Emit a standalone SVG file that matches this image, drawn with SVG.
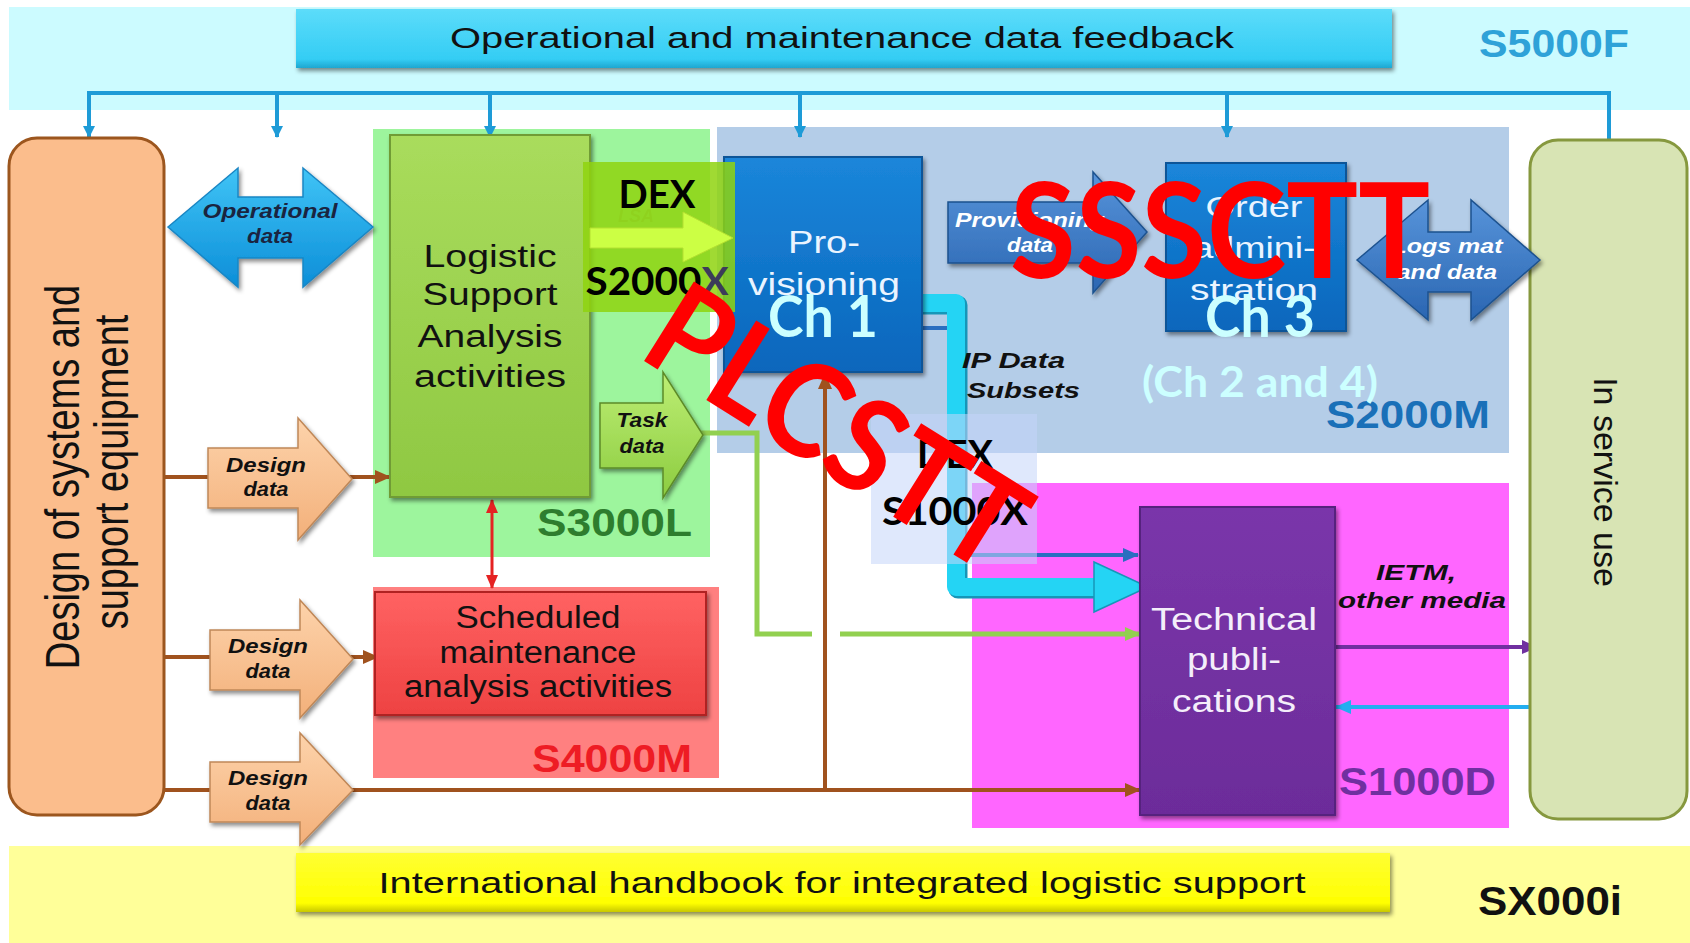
<svg xmlns="http://www.w3.org/2000/svg" width="1690" height="943" viewBox="0 0 1690 943">
<defs>
<style>
.sans{font-family:"Liberation Sans",Arial,sans-serif}
.lab{font-family:"Liberation Sans",Arial,sans-serif;font-weight:bold;font-style:italic}
.cal{font-family:Lato,"Open Sans",sans-serif;font-weight:bold}
.std{font-family:"Liberation Sans",Arial,sans-serif;font-weight:bold}
.fb{fill:none;stroke:#1e9bd7;stroke-width:4}
.br{fill:none;stroke:#a0521e;stroke-width:4}
</style>
<filter id="sh" x="-10%" y="-10%" width="130%" height="130%"><feDropShadow dx="2" dy="3" stdDeviation="2" flood-color="#000" flood-opacity="0.45"/></filter>
<linearGradient id="gBlue" x1="0" y1="0" x2="0" y2="1"><stop offset="0" stop-color="#1b86da"/><stop offset="1" stop-color="#0766bc"/></linearGradient>
<linearGradient id="gGreen" x1="0" y1="0" x2="0" y2="1"><stop offset="0" stop-color="#a9dc5c"/><stop offset="1" stop-color="#8fc842"/></linearGradient>
<linearGradient id="gRed" x1="0" y1="0" x2="0" y2="1"><stop offset="0" stop-color="#ff6262"/><stop offset="1" stop-color="#ee4242"/></linearGradient>
<linearGradient id="gPurple" x1="0" y1="0" x2="0" y2="1"><stop offset="0" stop-color="#7a36aa"/><stop offset="1" stop-color="#6c2c9a"/></linearGradient>
<linearGradient id="gPeach" x1="0" y1="0" x2="0" y2="1"><stop offset="0" stop-color="#fdd3ab"/><stop offset="1" stop-color="#f3b07a"/></linearGradient>
<linearGradient id="gOp" x1="0" y1="0" x2="0" y2="1"><stop offset="0" stop-color="#40c4f6"/><stop offset="1" stop-color="#0c8ed8"/></linearGradient>
<linearGradient id="gTask" x1="0" y1="0" x2="0" y2="1"><stop offset="0" stop-color="#bdee74"/><stop offset="1" stop-color="#8ccc40"/></linearGradient>
<linearGradient id="gBA" x1="0" y1="0" x2="0" y2="1"><stop offset="0" stop-color="#5894da"/><stop offset="1" stop-color="#2a66b2"/></linearGradient>
<linearGradient id="gBar" x1="0" y1="0" x2="0" y2="1"><stop offset="0" stop-color="#5cdcfa"/><stop offset="0.85" stop-color="#34cdf4"/><stop offset="1" stop-color="#1ea6d0"/></linearGradient>
<linearGradient id="gYBar" x1="0" y1="0" x2="0" y2="1"><stop offset="0" stop-color="#ffff33"/><stop offset="0.85" stop-color="#ffff00"/><stop offset="1" stop-color="#c8c800"/></linearGradient>
<marker id="mFb" markerWidth="12" markerHeight="12" refX="11" refY="6" orient="auto" markerUnits="userSpaceOnUse"><path d="M0,0 L12,6 L0,12 Z" fill="#1e9bd7"/></marker>
<marker id="mBr" markerWidth="16" markerHeight="14" refX="15" refY="7" orient="auto" markerUnits="userSpaceOnUse"><path d="M0,0 L16,7 L0,14 Z" fill="#a0521e"/></marker>
<marker id="mGr" markerWidth="16" markerHeight="14" refX="15" refY="7" orient="auto" markerUnits="userSpaceOnUse"><path d="M0,0 L16,7 L0,14 Z" fill="#92d050"/></marker>
<marker id="mRd" markerWidth="14" markerHeight="12" refX="13" refY="6" orient="auto-start-reverse" markerUnits="userSpaceOnUse"><path d="M0,0 L14,6 L0,12 Z" fill="#e52222"/></marker>
<marker id="mPu" markerWidth="16" markerHeight="14" refX="15" refY="7" orient="auto" markerUnits="userSpaceOnUse"><path d="M0,0 L16,7 L0,14 Z" fill="#7030a0"/></marker>
<marker id="mCy" markerWidth="16" markerHeight="14" refX="15" refY="7" orient="auto" markerUnits="userSpaceOnUse"><path d="M0,0 L16,7 L0,14 Z" fill="#22aef0"/></marker>
<marker id="mDb" markerWidth="16" markerHeight="14" refX="15" refY="7" orient="auto" markerUnits="userSpaceOnUse"><path d="M0,0 L16,7 L0,14 Z" fill="#2a6ec0"/></marker>
</defs>
<rect width="1690" height="943" fill="#ffffff"/>

<!-- bands and regions -->
<g id="band-s5000f">
<rect x="9" y="7" width="1681" height="103" fill="#ccfbff"/>
<rect x="296" y="9" width="1096" height="59" fill="url(#gBar)" filter="url(#sh)"/>
<text class="sans" x="842" y="48" font-size="30" text-anchor="middle" textLength="784" lengthAdjust="spacingAndGlyphs" fill="#111">Operational and maintenance data feedback</text>
<text class="std" x="1479" y="57" font-size="38" textLength="150" lengthAdjust="spacingAndGlyphs" fill="#2fa2d8">S5000F</text>
</g>
<g id="band-sx000i">
<rect x="9" y="846" width="1681" height="97" fill="#ffff99"/>
<rect x="296" y="853" width="1094" height="59" fill="url(#gYBar)" filter="url(#sh)"/>
<text class="sans" x="842" y="893" font-size="30" text-anchor="middle" textLength="927" lengthAdjust="spacingAndGlyphs" fill="#111">International handbook for integrated logistic support</text>
<text class="std" x="1478" y="915" font-size="40" textLength="144" lengthAdjust="spacingAndGlyphs" fill="#111">SX000i</text>
</g>
<g id="region-s3000l">
<rect x="373" y="129" width="337" height="428" fill="#9df59d"/>
<text class="std" x="537" y="536" font-size="38" textLength="155" lengthAdjust="spacingAndGlyphs" fill="#2e7d2e">S3000L</text>
</g>
<g id="region-s4000m">
<rect x="373" y="587" width="346" height="191" fill="#ff8080"/>
<text class="std" x="532" y="772" font-size="38" textLength="160" lengthAdjust="spacingAndGlyphs" fill="#ee1c24">S4000M</text>
</g>
<g id="region-s2000m">
<rect x="717" y="127" width="792" height="326" fill="#b4cde8"/>
<text class="std" x="1326" y="428" font-size="38" textLength="164" lengthAdjust="spacingAndGlyphs" fill="#1a70b8">S2000M</text>
</g>
<g id="region-s1000d">
<rect x="972" y="483" width="537" height="345" fill="#ff66ff"/>
<text class="std" x="1339" y="795" font-size="38" textLength="157" lengthAdjust="spacingAndGlyphs" fill="#7030a0">S1000D</text>
</g>

<!-- connectors -->
<g id="connectors">
<polyline class="fb" points="89,93 1609,93 1609,141"/>
<line class="fb" x1="89" y1="91" x2="89" y2="137" marker-end="url(#mFb)"/>
<line class="fb" x1="277" y1="93" x2="277" y2="137" marker-end="url(#mFb)"/>
<line class="fb" x1="490" y1="93" x2="490" y2="137" marker-end="url(#mFb)"/>
<line class="fb" x1="800" y1="93" x2="800" y2="137" marker-end="url(#mFb)"/>
<line class="fb" x1="1227" y1="93" x2="1227" y2="137" marker-end="url(#mFb)"/>
<line class="br" x1="164" y1="477" x2="215" y2="477"/>
<line class="br" x1="345" y1="477" x2="390" y2="477" marker-end="url(#mBr)"/>
<line class="br" x1="164" y1="657" x2="215" y2="657"/>
<line class="br" x1="345" y1="657" x2="378" y2="657" marker-end="url(#mBr)"/>
<line class="br" x1="164" y1="790" x2="215" y2="790"/>
<line class="br" x1="345" y1="790" x2="1140" y2="790" marker-end="url(#mBr)"/>
<line class="br" x1="825" y1="790" x2="825" y2="374" marker-end="url(#mBr)"/>
<line x1="492" y1="500" x2="492" y2="588" stroke="#e52222" stroke-width="3" marker-start="url(#mRd)" marker-end="url(#mRd)"/>
<polyline points="700,433 757,433 757,634 812,634" fill="none" stroke="#92d050" stroke-width="5"/>
<line x1="840" y1="634" x2="1140" y2="634" stroke="#92d050" stroke-width="5" marker-end="url(#mGr)"/>
<polyline points="922,328 956,328 956,555 1138,555" fill="none" stroke="#2a6ec0" stroke-width="4" marker-end="url(#mDb)"/>
<polyline points="915,305 958,305 958,589 1100,589" fill="none" stroke="#1696b8" stroke-width="19" stroke-linejoin="round"/>
<polyline points="913,303 956,303 956,587 1098,587" fill="none" stroke="#24d4f4" stroke-width="18" stroke-linejoin="round"/>
<polygon points="1094,562 1148,587 1094,612" fill="#24d4f4" stroke="#1696b8" stroke-width="1.5"/>
<line x1="1335" y1="647" x2="1537" y2="647" stroke="#7030a0" stroke-width="4" marker-end="url(#mPu)"/>
<line x1="1537" y1="707" x2="1336" y2="707" stroke="#22aef0" stroke-width="4" marker-end="url(#mCy)"/>
</g>

<!-- nodes -->
<g id="design-systems">
<rect x="9" y="138" width="155" height="677" rx="28" fill="#fbbd8c" stroke="#9c561e" stroke-width="3"/>
<text class="sans" transform="translate(79,477) rotate(-90) scale(1,1.25)" font-size="38" text-anchor="middle" fill="#111">Design of systems and</text>
<text class="sans" transform="translate(128,472) rotate(-90) scale(1,1.25)" font-size="38" text-anchor="middle" fill="#111">support equipment</text>
</g>
<g id="in-service-use">
<rect x="1530" y="140" width="157" height="679" rx="28" fill="#d8e4b4" stroke="#86983e" stroke-width="3"/>
<text class="sans" transform="translate(1594,482) rotate(90)" font-size="34" text-anchor="middle" fill="#111">In service use</text>
</g>
<g id="operational-data">
<polygon points="168,227 238,168 238,197 303,197 303,168 373,227 303,287 303,258 238,258 238,287" fill="url(#gOp)" stroke="#1a86c4" stroke-width="1.5" filter="url(#sh)"/>
<text class="lab" x="270" y="218" font-size="21" text-anchor="middle" textLength="135" lengthAdjust="spacingAndGlyphs" fill="#1a2440">Operational</text>
<text class="lab" x="270" y="243" font-size="21" text-anchor="middle" textLength="46" lengthAdjust="spacingAndGlyphs" fill="#1a2440">data</text>
</g>
<g id="design-data-1">
<polygon points="208,448 298,448 298,418 352,479 298,540 298,508 208,508" fill="url(#gPeach)" stroke="#c08858" stroke-width="1.5" filter="url(#sh)"/>
<text class="lab" x="266" y="472" font-size="20" text-anchor="middle" textLength="80" lengthAdjust="spacingAndGlyphs" fill="#111">Design</text>
<text class="lab" x="266" y="496" font-size="20" text-anchor="middle" textLength="45" lengthAdjust="spacingAndGlyphs" fill="#111">data</text>
</g>
<g id="design-data-2">
<polygon points="210,630 300,630 300,600 353,659 300,718 300,690 210,690" fill="url(#gPeach)" stroke="#c08858" stroke-width="1.5" filter="url(#sh)"/>
<text class="lab" x="268" y="653" font-size="20" text-anchor="middle" textLength="80" lengthAdjust="spacingAndGlyphs" fill="#111">Design</text>
<text class="lab" x="268" y="678" font-size="20" text-anchor="middle" textLength="45" lengthAdjust="spacingAndGlyphs" fill="#111">data</text>
</g>
<g id="design-data-3">
<polygon points="210,762 300,762 300,733 353,790 300,845 300,822 210,822" fill="url(#gPeach)" stroke="#c08858" stroke-width="1.5" filter="url(#sh)"/>
<text class="lab" x="268" y="785" font-size="20" text-anchor="middle" textLength="80" lengthAdjust="spacingAndGlyphs" fill="#111">Design</text>
<text class="lab" x="268" y="810" font-size="20" text-anchor="middle" textLength="45" lengthAdjust="spacingAndGlyphs" fill="#111">data</text>
</g>
<g id="lsa-activities">
<rect x="390" y="135" width="200" height="362" fill="url(#gGreen)" stroke="#6f9c34" stroke-width="2" filter="url(#sh)"/>
<text class="sans" x="490" y="267" font-size="31" text-anchor="middle" textLength="133" lengthAdjust="spacingAndGlyphs" fill="#111">Logistic</text>
<text class="sans" x="490" y="305" font-size="31" text-anchor="middle" textLength="135" lengthAdjust="spacingAndGlyphs" fill="#111">Support</text>
<text class="sans" x="490" y="347" font-size="31" text-anchor="middle" textLength="145" lengthAdjust="spacingAndGlyphs" fill="#111">Analysis</text>
<text class="sans" x="490" y="387" font-size="31" text-anchor="middle" textLength="152" lengthAdjust="spacingAndGlyphs" fill="#111">activities</text>
</g>
<g id="task-data">
<polygon points="600,403 663,403 663,372 703,435 663,498 663,468 600,468" fill="url(#gTask)" stroke="#5c8a28" stroke-width="1.5" filter="url(#sh)"/>
<text class="lab" x="642" y="427" font-size="20" text-anchor="middle" textLength="51" lengthAdjust="spacingAndGlyphs" fill="#111">Task</text>
<text class="lab" x="642" y="453" font-size="20" text-anchor="middle" textLength="45" lengthAdjust="spacingAndGlyphs" fill="#111">data</text>
</g>
<g id="scheduled-maintenance">
<rect x="375" y="592" width="331" height="123" fill="url(#gRed)" stroke="#b02424" stroke-width="2" filter="url(#sh)"/>
<text class="sans" x="538" y="628" font-size="31" text-anchor="middle" textLength="165" lengthAdjust="spacingAndGlyphs" fill="#111">Scheduled</text>
<text class="sans" x="538" y="663" font-size="31" text-anchor="middle" textLength="197" lengthAdjust="spacingAndGlyphs" fill="#111">maintenance</text>
<text class="sans" x="538" y="697" font-size="31" text-anchor="middle" textLength="268" lengthAdjust="spacingAndGlyphs" fill="#111">analysis activities</text>
</g>
<g id="provisioning">
<rect x="724" y="157" width="198" height="215" fill="url(#gBlue)" stroke="#0a5498" stroke-width="2" filter="url(#sh)"/>
<text class="sans" x="824" y="253" font-size="31" text-anchor="middle" textLength="72" lengthAdjust="spacingAndGlyphs" fill="#eaf4ff">Pro-</text>
<text class="sans" x="824" y="295" font-size="31" text-anchor="middle" textLength="152" lengthAdjust="spacingAndGlyphs" fill="#eaf4ff">visioning</text>
</g>
<g id="provisioning-data">
<polygon points="948,202 1093,202 1093,172 1147,232 1093,293 1093,263 948,263" fill="url(#gBA)" stroke="#1d528f" stroke-width="1.5" filter="url(#sh)"/>
<text class="lab" x="1030" y="227" font-size="20" text-anchor="middle" textLength="150" lengthAdjust="spacingAndGlyphs" fill="#ffffff">Provisioning</text>
<text class="lab" x="1030" y="252" font-size="20" text-anchor="middle" textLength="46" lengthAdjust="spacingAndGlyphs" fill="#ffffff">data</text>
</g>
<g id="order-administration">
<rect x="1166" y="163" width="180" height="168" fill="url(#gBlue)" stroke="#0a5498" stroke-width="2" filter="url(#sh)"/>
<text class="sans" x="1254" y="217" font-size="29" text-anchor="middle" textLength="97" lengthAdjust="spacingAndGlyphs" fill="#eaf4ff">Order</text>
<text class="sans" x="1254" y="258" font-size="29" text-anchor="middle" textLength="123" lengthAdjust="spacingAndGlyphs" fill="#eaf4ff">admini-</text>
<text class="sans" x="1254" y="300" font-size="29" text-anchor="middle" textLength="128" lengthAdjust="spacingAndGlyphs" fill="#eaf4ff">stration</text>
</g>
<g id="logs-mat-data">
<polygon points="1357,260 1428,200 1428,232 1471,232 1471,200 1540,260 1471,320 1471,292 1428,292 1428,320" fill="url(#gBA)" stroke="#1d528f" stroke-width="1.5" filter="url(#sh)"/>
<text class="lab" x="1447" y="253" font-size="20" text-anchor="middle" textLength="111" lengthAdjust="spacingAndGlyphs" fill="#ffffff">Logs mat</text>
<text class="lab" x="1447" y="279" font-size="20" text-anchor="middle" textLength="100" lengthAdjust="spacingAndGlyphs" fill="#ffffff">and data</text>
</g>
<g id="ip-data-subsets">
<text class="lab" x="962" y="368" font-size="22" textLength="103" lengthAdjust="spacingAndGlyphs" fill="#111">IP Data</text>
<text class="lab" x="967" y="398" font-size="22" textLength="113" lengthAdjust="spacingAndGlyphs" fill="#111">Subsets</text>
</g>
<g id="technical-publications">
<rect x="1140" y="507" width="195" height="308" fill="url(#gPurple)" stroke="#56207e" stroke-width="2" filter="url(#sh)"/>
<text class="sans" x="1234" y="630" font-size="31" text-anchor="middle" textLength="166" lengthAdjust="spacingAndGlyphs" fill="#f4eefa">Technical</text>
<text class="sans" x="1234" y="670" font-size="31" text-anchor="middle" textLength="94" lengthAdjust="spacingAndGlyphs" fill="#f4eefa">publi-</text>
<text class="sans" x="1234" y="712" font-size="31" text-anchor="middle" textLength="124" lengthAdjust="spacingAndGlyphs" fill="#f4eefa">cations</text>
</g>
<g id="ietm-label">
<text class="lab" x="1376" y="580" font-size="22" textLength="80" lengthAdjust="spacingAndGlyphs" fill="#111">IETM,</text>
<text class="lab" x="1338" y="608" font-size="22" textLength="168" lengthAdjust="spacingAndGlyphs" fill="#111">other media</text>
</g>

<!-- overlays -->
<g id="dex-s2000x">
<text class="lab" x="618" y="222" font-size="18" fill="#6a7a30" opacity="0.35">LSA</text>
<rect x="583" y="162" width="152" height="150" fill="#8fd40f" opacity="0.85"/>
<polygon points="590,228 683,228 683,212 733,238 683,262 683,248 590,248" fill="#ccff44" stroke="#b4e030" stroke-width="1"/>
<text class="cal" x="657" y="208" font-size="38" text-anchor="middle" textLength="77" lengthAdjust="spacingAndGlyphs" fill="#000">DEX</text>
<text class="cal" x="657" y="295" font-size="38" text-anchor="middle" textLength="143" lengthAdjust="spacingAndGlyphs" fill="#000">S2000<tspan fill="#3c3c5a">X</tspan></text>
</g>
<g id="dex-s1000x">
<rect x="871" y="414" width="166" height="150" fill="#c5d5fa" opacity="0.55"/>
<text class="cal" x="955" y="468" font-size="39" text-anchor="middle" textLength="76" lengthAdjust="spacingAndGlyphs" fill="#000">DEX</text>
<text class="cal" x="955" y="525" font-size="39" text-anchor="middle" textLength="146" lengthAdjust="spacingAndGlyphs" fill="#000">S1000X</text>
</g>
<g id="chapter-labels">
<text class="cal" x="823" y="337" font-size="58" text-anchor="middle" textLength="110" lengthAdjust="spacingAndGlyphs" fill="#ccffff">Ch 1</text>
<text class="cal" x="1260" y="337" font-size="58" text-anchor="middle" textLength="110" lengthAdjust="spacingAndGlyphs" fill="#ccffff">Ch 3</text>
<text class="cal" x="1260" y="397" font-size="42" text-anchor="middle" textLength="236" lengthAdjust="spacingAndGlyphs" fill="#ccffff">(Ch 2 and 4)</text>
</g>
<g id="stamp-ssscTT">
<text class="cal" x="1010" y="278" font-size="132" textLength="420" lengthAdjust="spacingAndGlyphs" fill="#ff0000">SSSCTT</text>
</g>
<g id="stamp-plcstt">
<text class="cal" transform="translate(636,356) rotate(32)" font-size="130" textLength="418" lengthAdjust="spacingAndGlyphs" fill="#ff0000">PLCSTT</text>
</g>
</svg>
